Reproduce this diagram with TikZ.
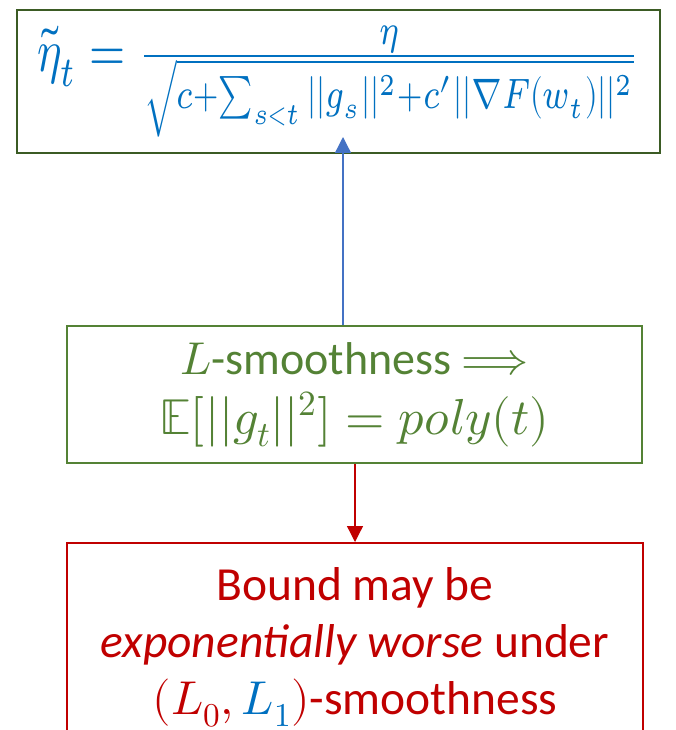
\documentclass[tikz,border=0pt]{standalone}
\usepackage{amsmath}
\usepackage{fontspec}
\usepackage{unicode-math}
\setmainfont{Carlito}
\setmathfont{Latin Modern Math}
\usetikzlibrary{arrows.meta}
\definecolor{topframe}{HTML}{3B5B24}
\definecolor{mblue}{HTML}{0070C0}
\definecolor{mgreen}{HTML}{548235}
\definecolor{mred}{HTML}{C00000}
\definecolor{ablue}{HTML}{4472C4}
\tikzset{
  box/.style={draw, rectangle, line width=2pt, inner sep=0pt, align=center},
  conn/.style={line width=1.3pt, -{Triangle[width=16pt,length=16pt]}}
}
\begin{document}
\begin{tikzpicture}[x=1pt,y=-1pt]
\useasboundingbox (0,0) rectangle (676,730);
\clip (0,0) rectangle (676,730);
\node[box, draw=topframe, text=mblue, minimum width=643pt, minimum height=143pt] (top) at (338.5,81.5)
  {\resizebox*{602pt}{112pt}{$\tilde{\eta}_t = \frac{\eta}{\sqrt{c+\sum_{s<t}||g_s||^2+c'||\nabla F(w_t)||^2}}$}};
\node[box, draw=mgreen, text=mgreen, minimum width=575pt, minimum height=137pt,
  font=\fontsize{46}{60}\selectfont] (mid) at (354.5,394.5)
  {$L$-smoothness $\Longrightarrow$\\ \scalebox{1.1}{$\mathbb{E}[||g_t||^2] = poly(t)$}};
\node[box, draw=mred, text=mred, minimum width=576pt, minimum height=208pt,
  font=\fontsize{47.5}{57}\selectfont] (bot) at (355,647)
  {Bound may be\\ \textit{exponentially worse} under\\ $(L_0,\textcolor{mblue}{L_1})$-smoothness};
\draw[conn, ablue] (mid.north -| 343,0) -- (343,137);
\draw[conn, mred] (mid.south -| bot.north) -- (bot.north);
\end{tikzpicture}
\end{document}
